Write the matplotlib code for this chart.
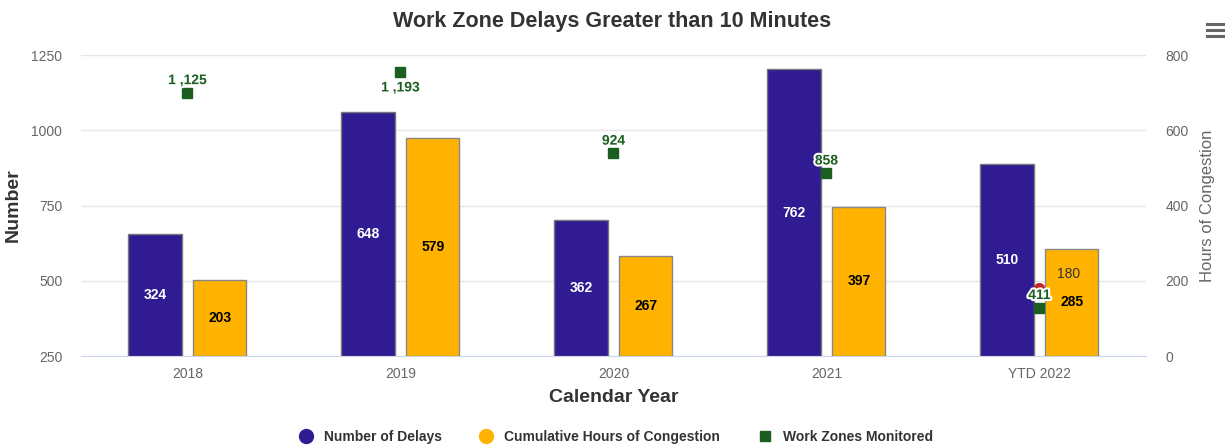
import matplotlib
matplotlib.use("Agg")
import matplotlib.pyplot as plt
import matplotlib.patheffects as pe
from matplotlib.lines import Line2D
import numpy as np

plt.rcParams['font.family'] = ['Liberation Sans', 'DejaVu Sans']

categories = ["2018", "2019", "2020", "2021", "YTD 2022"]
delays = [324, 648, 362, 762, 510]
congestion_hours = [203, 579, 267, 397, 285]
zones_monitored = [1125, 1193, 924, 858, 411]
zone_labels = ["1 ,125", "1 ,193", "924", "858", "411"]
zone_label_above = [True, False, True, True, True]
marker_value = 180  # single highlighted point on the hours axis, YTD 2022

PURPLE = "#311b92"
ORANGE = "#ffb300"
GREEN = "#1b5e20"
RED = "#c62828"
GRID = "#e6e6e6"
TICK = "#666666"

fig = plt.figure(figsize=(12.25, 4.45), dpi=100)
ax = fig.add_axes([0.0661, 0.2, 0.8694, 0.6764])
ax2 = ax.twinx()

x = np.arange(len(categories))
w = 0.25
off = 0.152

# left axis: work zones
ax.set_ylim(250, 1250)
ax.set_yticks([250, 500, 750, 1000, 1250])
ax.set_xlim(-0.5, len(categories) - 0.5)
ax.grid(axis='y', color=GRID, linewidth=1)
ax.set_axisbelow(True)

# right axis: hours
ax2.set_ylim(0, 800)
ax2.set_yticks([0, 200, 400, 600, 800])

ax2.bar(x - off, delays, width=w, color=PURPLE, edgecolor="#777777", linewidth=1, zorder=2)
ax2.bar(x + off, congestion_hours, width=w, color=ORANGE, edgecolor="#888888", linewidth=1, zorder=2)

for xi, v in zip(x, delays):
    ax2.text(xi - off, v / 2, str(v), ha='center', va='center', color='white',
             fontsize=10, fontweight='bold', zorder=5)
for xi, v in zip(x, congestion_hours):
    ax2.text(xi + off, v / 2, str(v), ha='center', va='center', color='black',
             fontsize=10, fontweight='bold', zorder=5)

# highlighted point
ax2.plot([x[-1]], [marker_value], 'o', color=RED, markersize=7, zorder=6)
ax2.annotate(str(marker_value), (x[-1], marker_value), xytext=(21, 10),
             textcoords='offset points', ha='center', va='center',
             fontsize=10, color='#333333', zorder=6)

# work zone squares drawn on the top axes, converted from the left scale
def to_right(v):
    return (v - 250) / 1000 * 800

zone_y = [to_right(v) for v in zones_monitored]
ax2.plot(x, zone_y, 's', color=GREEN, markersize=7.5, linestyle='none', zorder=7)
halo = [pe.withStroke(linewidth=3, foreground='white')]
for xi, v, lab, above in zip(x, zone_y, zone_labels, zone_label_above):
    dy = 9 if above else -11
    ax2.annotate(lab, (xi, v), xytext=(0, dy), textcoords='offset points',
                 ha='center', va='center', fontsize=10, fontweight='bold',
                 color=GREEN, path_effects=halo, zorder=8)

for a in (ax, ax2):
    for s in a.spines.values():
        s.set_visible(False)
ax.spines['bottom'].set_visible(True)
ax.spines['bottom'].set_color('#ccd6eb')

ax.set_xticks(x)
ax.set_xticklabels(categories)
ax.tick_params(axis='x', length=0, pad=8, labelsize=10, labelcolor=TICK)
ax.tick_params(axis='y', length=0, pad=13.5, labelsize=10, labelcolor=TICK)
ax2.tick_params(axis='y', length=0, pad=14, labelsize=10, labelcolor=TICK)

ax.set_xlabel("Calendar Year", fontsize=14, fontweight='bold', color='#333333', labelpad=6)
ax.set_ylabel("Number", fontsize=14, fontweight='bold', color='#333333')
ax.yaxis.set_label_coords(-0.0554, 0.5)
ax2.set_ylabel("Hours of Congestion", fontsize=12, color='#666666')
ax2.yaxis.set_label_coords(1.0507, 0.5)

fig.suptitle("Work Zone Delays Greater than 10 Minutes", fontsize=15.5, fontweight='bold',
             color='#333333', y=0.975)

handles = [
    Line2D([], [], marker='o', linestyle='none', color=PURPLE, markersize=10),
    Line2D([], [], marker='o', linestyle='none', color=ORANGE, markersize=10),
    Line2D([], [], marker='s', linestyle='none', color=GREEN, markersize=7),
]
leg = fig.legend(handles, ["Number of Delays", "Cumulative Hours of Congestion", "Work Zones Monitored"],
                 loc='center', bbox_to_anchor=(0.5, 0.018), ncol=3, frameon=False,
                 fontsize=10, handletextpad=0.3, columnspacing=2.2)
for t in leg.get_texts():
    t.set_fontweight('bold')
    t.set_color('#333333')

# menu icon
for yy in (0.946, 0.932, 0.918):
    fig.add_artist(Line2D([0.9855, 0.9985], [yy, yy], color='#666666', linewidth=2.2))

fig.savefig("out.png", dpi=100)
